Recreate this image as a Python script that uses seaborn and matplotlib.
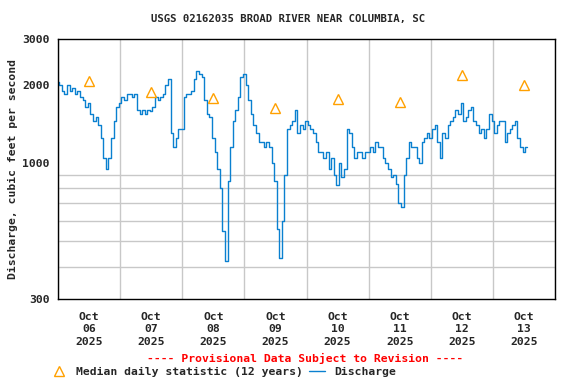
import pandas as pd
import matplotlib
matplotlib.use('Agg')
import matplotlib.pyplot as plt
import matplotlib.dates as mdates
from matplotlib.lines import Line2D
from matplotlib.ticker import FixedLocator, NullFormatter
import seaborn as sns

# 每小时流量读数 (cfs), 从 2025-10-06 00:00 开始
oct06 = [2050, 2000, 1900, 1850, 2000, 1900, 1950, 1850, 1900, 1800, 1750, 1650,
         1700, 1550, 1450, 1500, 1400, 1250, 1050, 950, 1050, 1250, 1450, 1650]
oct07 = [1700, 1800, 1750, 1850, 1850, 1800, 1850, 1600, 1550, 1600, 1550, 1600,
         1580, 1650, 1800, 1750, 1800, 1850, 2000, 2100, 1300, 1150, 1250, 1350]
oct08 = [1350, 1800, 1850, 1850, 1900, 2100, 2250, 2200, 2150, 1750, 1550, 1500,
         1250, 1100, 950, 800, 550, 420, 850, 1150, 1450, 1600, 1800, 2150]
oct09 = [2200, 2000, 1750, 1550, 1400, 1300, 1200, 1200, 1150, 1200, 1150, 1000,
         850, 560, 430, 600, 900, 1350, 1400, 1450, 1600, 1300, 1400, 1350]
oct10 = [1450, 1400, 1350, 1300, 1200, 1100, 1100, 1050, 1100, 950, 1050, 900,
         820, 1000, 880, 950, 1350, 1300, 1150, 1050, 1100, 1100, 1050, 1100]
oct11 = [1100, 1150, 1100, 1200, 1150, 1150, 1050, 1000, 950, 880, 900, 830,
         700, 680, 900, 1050, 1200, 1150, 1150, 1050, 1000, 1200, 1250, 1300]
oct12 = [1250, 1350, 1400, 1200, 1050, 1300, 1250, 1400, 1450, 1500, 1600, 1550,
         1700, 1450, 1500, 1600, 1650, 1450, 1400, 1300, 1350, 1250, 1350, 1550]
oct13 = [1450, 1300, 1400, 1450, 1450, 1200, 1300, 1350, 1400, 1450, 1250, 1150,
         1100, 1150]

# 12年日中位数
median_vals = [2060, 1875, 1780, 1635, 1770, 1717, 2190, 2000]

day_labels = ['Oct\n06\n2025', 'Oct\n07\n2025', 'Oct\n08\n2025', 'Oct\n09\n2025',
              'Oct\n10\n2025', 'Oct\n11\n2025', 'Oct\n12\n2025', 'Oct\n13\n2025']
y_labels = [300, 1000, 2000, 3000]
y_grid = [400, 500, 600, 700, 800, 900, 1000, 2000]

flow = oct06 + oct07 + oct08 + oct09 + oct10 + oct11 + oct12 + oct13
df = pd.DataFrame({'time': pd.date_range('2025-10-06 00:00', periods=len(flow), freq='h'),
                   'flow': flow})
med = pd.DataFrame({'time': pd.date_range('2025-10-06 12:00', periods=len(median_vals), freq='D'),
                    'flow': median_vals})

sns.set_style('white')
plt.rcParams['font.family'] = ['DejaVu Sans Mono']
plt.rcParams['font.weight'] = 'bold'
plt.rcParams['font.size'] = 8.2

fig = plt.figure(figsize=(5.76, 3.84), dpi=100)
ax = fig.add_axes([58 / 576, 1 - 299 / 384, 497 / 576, 260 / 384])

line_color = '#0a80d0'
tri_color = '#ffa000'

sns.lineplot(data=df, x='time', y='flow', ax=ax, color=line_color, lw=1,
             drawstyle='steps-mid', estimator=None)
ax.plot(med['time'], med['flow'], ls='none', marker='^', ms=7,
        mfc='none', mec=tri_color, mew=1)

ax.set_yscale('log')
ax.set_ylim(300, 3000)
ax.set_xlim(pd.Timestamp('2025-10-06'), pd.Timestamp('2025-10-14'))

ax.yaxis.set_major_locator(FixedLocator(y_labels))
ax.set_yticklabels([str(v) for v in y_labels])
ax.yaxis.set_minor_locator(FixedLocator(y_grid))
ax.yaxis.set_minor_formatter(NullFormatter())

ax.xaxis.set_major_locator(mdates.DayLocator())
ax.xaxis.set_major_formatter(NullFormatter())
ax.xaxis.set_minor_locator(FixedLocator(mdates.date2num(med['time'])))
ax.set_xticklabels(day_labels, minor=True, linespacing=1.35)

ax.grid(False)
ax.grid(True, which='minor', axis='y', color='#c8c8c8', lw=1)
ax.grid(True, which='major', axis='x', color='#c8c8c8', lw=1)
ax.tick_params(which='both', length=0, labelsize=8.2)
ax.tick_params(axis='x', which='minor', pad=9)
ax.tick_params(axis='y', pad=6)
for lab in ax.get_xticklabels(minor=True) + ax.get_yticklabels():
    lab.set_fontweight('bold')
for s in ax.spines.values():
    s.set_color('black')
    s.set_linewidth(1)

ax.set_xlabel('')
ax.set_ylabel('Discharge, cubic feet per second', fontsize=8.2, fontweight='bold', labelpad=3)
fig.text(0.5, 1 - 19 / 384, 'USGS 02162035 BROAD RIVER NEAR COLUMBIA, SC',
         ha='center', va='center', fontsize=7.7, fontweight='bold')
fig.text(305 / 576, 1 - 358 / 384, '---- Provisional Data Subject to Revision ----',
         ha='center', va='center', fontsize=8.2, fontweight='bold', color='red')

handles = [Line2D([], [], ls='none', marker='^', ms=7, mfc='none', mec=tri_color, mew=1),
           Line2D([], [], color=line_color, lw=1)]
fig.legend(handles, ['Median daily statistic (12 years)', 'Discharge'], ncol=2,
           loc='center left', bbox_to_anchor=(41 / 576, 1 - 372 / 384), frameon=False,
           handlelength=1.4, handletextpad=0.75, columnspacing=0.6,
           prop={'size': 8.2, 'weight': 'bold'})

fig.savefig('out.png', dpi=100)
